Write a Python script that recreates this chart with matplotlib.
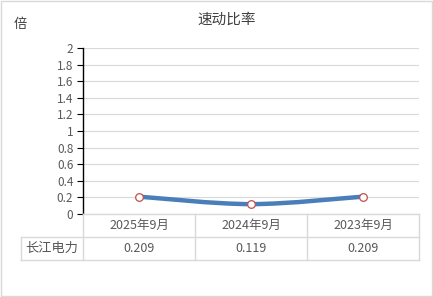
import matplotlib
matplotlib.use("Agg")
import matplotlib.pyplot as plt
from matplotlib.lines import Line2D
from matplotlib.patches import Rectangle
from matplotlib.path import Path
from matplotlib.patches import PathPatch
import numpy as np

plt.rcParams['font.family'] = ['Noto Sans CJK SC', 'DejaVu Sans']

title = "速动比率"
unit = "倍"
series_name = "长江电力"
categories = ["2025年9月", "2024年9月", "2023年9月"]
values = [0.209, 0.119, 0.209]
value_labels = ["0.209", "0.119", "0.209"]
yticks = [0, 0.2, 0.4, 0.6, 0.8, 1, 1.2, 1.4, 1.6, 1.8, 2]

W, H = 433, 297
fig = plt.figure(figsize=(W / 100, H / 100), dpi=100)
TXT = "#595959"
GRID = "#D9D9D9"

def fx(px):
    return px / W

def fy(py):
    return 1 - py / H

# outer border
fig.add_artist(Rectangle((fx(1), fy(296)), fx(431), 295 / H,
                         transform=fig.transFigure, fill=False, edgecolor="#D9D9D9", lw=1))

L, R, T, B = 83, 419, 48, 214
ax = fig.add_axes([fx(L), fy(B), fx(R - L), (B - T) / H])
n = len(categories)
ax.set_xlim(-0.5, n - 0.5)
ax.set_ylim(0, 2)
ax.set_yticks(yticks)
ax.set_yticklabels([f"{t:g}" for t in yticks], color=TXT, fontsize=8.5)
ax.set_xticks([])
ax.tick_params(axis='y', length=4, width=0.8, color="black", pad=3)
for s in ["top", "right", "bottom"]:
    ax.spines[s].set_visible(False)
ax.spines["left"].set_color("black")
ax.spines["left"].set_linewidth(1)
ax.yaxis.grid(True, color=GRID, lw=0.8)
ax.set_axisbelow(True)

# smooth line (Catmull-Rom style bezier, like Excel smoothing)
xs = np.arange(n, dtype=float)
ys = np.array(values, dtype=float)
pts = np.column_stack([xs, ys])
verts = [tuple(pts[0])]
codes = [Path.MOVETO]
for i in range(n - 1):
    p0 = pts[i - 1] if i > 0 else pts[i]
    p1 = pts[i]
    p2 = pts[i + 1]
    p3 = pts[i + 2] if i + 2 < n else pts[i + 1]
    c1 = p1 + (p2 - p0) / 6
    c2 = p2 - (p3 - p1) / 6
    verts += [tuple(c1), tuple(c2), tuple(p2)]
    codes += [Path.CURVE4] * 3
ax.add_patch(PathPatch(Path(verts, codes), fill=False, edgecolor="#4A7EBB", lw=3.2,
                       capstyle="round", zorder=3))
ax.plot(xs, ys, ls="none", marker="o", ms=5.5, mfc="white", mec="#C0504D", mew=0.9, zorder=4)

# title and unit
fig.text(fx(227), fy(20), title, ha="center", va="center", fontsize=10.5, color="#404040")
fig.text(fx(20), fy(24), unit, ha="center", va="center", fontsize=9.5, color="#404040")

# table
r0, r1, r2 = 214, 237, 260
tl = 21
def hline(y, x0, x1):
    fig.add_artist(Line2D([fx(x0), fx(x1)], [fy(y), fy(y)], transform=fig.transFigure, color=GRID, lw=1))
def vline(x, y0, y1):
    fig.add_artist(Line2D([fx(x), fx(x)], [fy(y0), fy(y1)], transform=fig.transFigure, color=GRID, lw=1))

hline(r0, L, R)
hline(r1, tl, R)
hline(r2, tl, R)
vline(tl, r1, r2)
cw = (R - L) / n
for i in range(n + 1):
    vline(L + i * cw, r0, r2)
for i, (c, v) in enumerate(zip(categories, value_labels)):
    cx = L + (i + 0.5) * cw
    fig.text(fx(cx), fy((r0 + r1) / 2), c, ha="center", va="center", fontsize=9, color=TXT)
    fig.text(fx(cx), fy((r1 + r2) / 2), v, ha="center", va="center", fontsize=9, color=TXT)
fig.text(fx((tl + L) / 2), fy((r1 + r2) / 2), series_name, ha="center", va="center", fontsize=9.5, color=TXT)

fig.savefig("out.png", dpi=100)
